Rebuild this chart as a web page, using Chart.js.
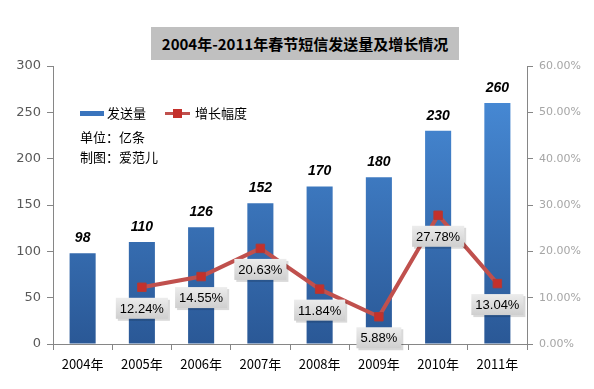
<!DOCTYPE html>
<html><head><meta charset="utf-8">
<script src="https://cdn.jsdelivr.net/npm/chart.js@4"></script>
<style>
html,body{margin:0;padding:0;background:#fff;}
#wrap{position:relative;width:594px;height:389px;}
canvas{position:absolute;left:0;top:0;}
.ov{position:absolute;font-family:"Noto Sans CJK SC","Noto Sans",sans-serif;white-space:nowrap;}
#title{left:151px;top:27px;width:308px;height:33px;background:#c0c0c0;font-weight:bold;font-size:15px;line-height:33px;text-align:center;color:#000;}
.lg{font-size:13px;line-height:16px;color:#000;}
</style></head>
<body><div id="wrap">
<canvas id="c" width="594" height="389"></canvas>
<div id="title" class="ov">2004年-2011年春节短信发送量及增长情况</div>
<div class="ov" style="left:80px;top:111px;width:24px;height:5px;background:#3a74bd;"></div>
<div class="ov lg" style="left:107px;top:105px;">发送量</div>
<div class="ov" style="left:165px;top:112px;width:25px;height:3px;background:#c0504d;"></div>
<div class="ov" style="left:173px;top:109px;width:9px;height:9px;background:#c4302b;"></div>
<div class="ov lg" style="left:195px;top:105px;">增长幅度</div>
<div class="ov lg" style="left:80px;top:129px;">单位：亿条</div>
<div class="ov lg" style="left:80px;top:149px;">制图：爱范儿</div>
</div>
<script>
const categories = ["2004年","2005年","2006年","2007年","2008年","2009年","2010年","2011年"];
const volume = [98,110,126,152,170,180,230,260];
const growth = [null,12.24,14.55,20.63,11.84,5.88,27.78,13.04];
const leftTicks = [0,50,100,150,200,250,300];
const rightTicks = [0,10,20,30,40,50,60];

const labelPlugin = {
  id:'labels',
  afterDatasetsDraw(chart){
    const ctx = chart.ctx;
    const bm = chart.getDatasetMeta(0);
    ctx.save();
    ctx.font = 'italic bold 14px "Liberation Sans", sans-serif';
    ctx.fillStyle = '#000';
    ctx.textAlign='center'; ctx.textBaseline='middle';
    bm.data.forEach((el,i)=>{ ctx.fillText(String(volume[i]), el.x, el.y-15); });
    const lm = chart.getDatasetMeta(1);
    ctx.font = '13px "Liberation Sans", sans-serif';
    lm.data.forEach((el,i)=>{
      if(growth[i]==null) return;
      const t = growth[i].toFixed(2)+'%';
      const w = ctx.measureText(t).width+8, h=21;
      const cx = el.x, cy = el.y+21;
      ctx.fillStyle='rgba(0,0,0,0.15)';
      ctx.fillRect(cx-w/2+2, cy-h/2+2, w, h);
      const g = ctx.createLinearGradient(0,cy-h/2,0,cy+h/2);
      g.addColorStop(0,'#ececec'); g.addColorStop(1,'#cfcfcf');
      ctx.fillStyle=g;
      ctx.fillRect(cx-w/2, cy-h/2, w, h);
      ctx.fillStyle='#000';
      ctx.fillText(t, cx, cy+1);
    });
    ctx.restore();
  }
};

const ctx = document.getElementById('c').getContext('2d');
new Chart(ctx,{
  data:{
    labels:categories,
    datasets:[
      {type:'bar',label:'发送量',data:volume,yAxisID:'y',order:1,
       categoryPercentage:1,barPercentage:0.44,
       backgroundColor:(c)=>{
         const ch=c.chart; const a=ch.chartArea; if(!a) return '#3a74bd';
         const g=ch.ctx.createLinearGradient(0,a.top,0,a.bottom);
         g.addColorStop(0,'#4a8fdc'); g.addColorStop(1,'#2a5896'); return g;
       }},
      {type:'line',label:'增长幅度',data:growth,yAxisID:'y1',order:0,
       borderColor:'#c0504d',borderWidth:4,pointStyle:'rect',pointRadius:6,
       pointBackgroundColor:'#c4302b',pointBorderColor:'#b03a36',pointBorderWidth:1,
       spanGaps:false,tension:0}
    ]
  },
  options:{
    responsive:false,animation:false,
    layout:{padding:{top:66,left:0,right:0,bottom:0}},
    plugins:{legend:{display:false},title:{display:false},tooltip:{enabled:false}},
    scales:{
      x:{
        grid:{display:true,drawOnChartArea:false,drawTicks:true,tickLength:6,color:'#868686',offset:true},
        border:{display:true,color:'#868686'},
        ticks:{color:'#000',font:{family:'"Noto Sans CJK SC"',size:13},padding:6,maxRotation:0},
        afterFit(s){s.height=45;}
      },
      y:{position:'left',min:0,max:300,
        afterBuildTicks(s){s.ticks=leftTicks.map(v=>({value:v}));},
        grid:{drawOnChartArea:false,drawTicks:true,tickLength:6,color:'#868686'},
        border:{display:true,color:'#868686'},
        ticks:{color:'#595959',font:{family:'"DejaVu Sans"',size:13},padding:6},
        afterFit(s){s.width=53;}
      },
      y1:{position:'right',min:0,max:60,
        afterBuildTicks(s){s.ticks=rightTicks.map(v=>({value:v}));},
        grid:{drawOnChartArea:false,drawTicks:true,tickLength:6,color:'#868686'},
        border:{display:true,color:'#868686'},
        ticks:{color:'#a6a6a6',font:{family:'"DejaVu Sans"',size:11},padding:6,callback:v=>v.toFixed(2)+'%'},
        afterFit(s){s.width=67;}
      }
    }
  },
  plugins:[labelPlugin]
});
</script>
</body></html>
